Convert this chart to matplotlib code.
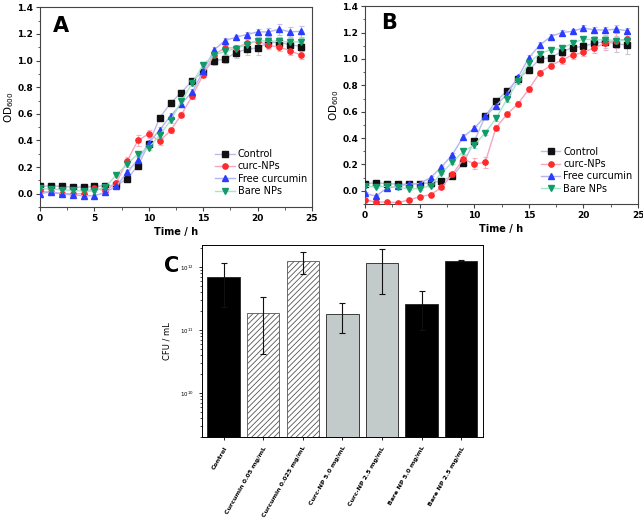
import numpy as np
import matplotlib
matplotlib.use("Agg")
import matplotlib.pyplot as plt
from matplotlib.ticker import MultipleLocator, LogLocator, NullFormatter

plt.rcParams['font.family'] = ['DejaVu Sans']
plt.rcParams['hatch.linewidth'] = 0.6

# ---------------- data ----------------
time_h = list(range(25))
series_names = ["Control", "curc-NPs", "Free curcumin", "Bare NPs"]

A_control = [0.055, 0.06, 0.055, 0.05, 0.05, 0.055, 0.06, 0.065, 0.11, 0.21, 0.375, 0.57, 0.68, 0.76, 0.85, 0.915,
             1.0, 1.01, 1.06, 1.085, 1.095, 1.135, 1.135, 1.12, 1.105]
A_curc = [0.02, 0.01, 0.0, 0.0, 0.0, 0.045, 0.02, 0.08, 0.245, 0.40, 0.45, 0.395, 0.475, 0.595, 0.735, 0.895,
          1.045, 1.095, 1.095, 1.13, 1.145, 1.115, 1.10, 1.075, 1.04]
A_free = [0.0, 0.015, 0.0, -0.01, -0.015, -0.015, 0.01, 0.055, 0.16, 0.255, 0.38, 0.48, 0.585, 0.675, 0.765, 0.92,
          1.08, 1.15, 1.175, 1.195, 1.215, 1.215, 1.235, 1.215, 1.22]
A_bare = [0.04, 0.035, 0.03, 0.025, 0.02, 0.02, 0.05, 0.14, 0.22, 0.30, 0.345, 0.44, 0.55, 0.695, 0.83, 0.97,
          1.04, 1.07, 1.09, 1.12, 1.15, 1.145, 1.145, 1.14, 1.14]

B_control = [0.055, 0.06, 0.055, 0.05, 0.05, 0.055, 0.06, 0.075, 0.11, 0.21, 0.375, 0.565, 0.68, 0.755, 0.85, 0.915,
             1.0, 1.01, 1.055, 1.085, 1.095, 1.12, 1.13, 1.115, 1.105]
B_curc = [-0.07, -0.085, -0.085, -0.09, -0.07, -0.045, -0.03, 0.025, 0.125, 0.24, 0.205, 0.215, 0.48, 0.58, 0.66, 0.77,
          0.895, 0.95, 0.99, 1.03, 1.05, 1.085, 1.12, 1.14, 1.15]
B_free = [-0.02, -0.04, 0.02, 0.035, 0.05, 0.055, 0.10, 0.18, 0.275, 0.41, 0.475, 0.565, 0.645, 0.735, 0.86, 1.01,
          1.105, 1.17, 1.20, 1.21, 1.235, 1.22, 1.22, 1.225, 1.215]
B_bare = [0.035, 0.03, 0.035, 0.025, 0.015, 0.015, 0.04, 0.135, 0.215, 0.30, 0.345, 0.44, 0.55, 0.695, 0.83, 0.97,
          1.04, 1.07, 1.08, 1.12, 1.15, 1.145, 1.145, 1.14, 1.14]

A_err_control = [0.01, 0.01, 0.01, 0.01, 0.01, 0.01, 0.01, 0.01, 0.015, 0.02, 0.02, 0.02, 0.02, 0.02, 0.02, 0.02,
                 0.03, 0.03, 0.04, 0.04, 0.05, 0.04, 0.04, 0.04, 0.03]
A_err_curc = [0.01, 0.01, 0.01, 0.01, 0.01, 0.01, 0.01, 0.02, 0.03, 0.04, 0.03, 0.03, 0.02, 0.02, 0.02, 0.02,
              0.02, 0.02, 0.02, 0.03, 0.03, 0.03, 0.03, 0.03, 0.03]
A_err_free = [0.01, 0.01, 0.01, 0.01, 0.01, 0.01, 0.01, 0.01, 0.02, 0.02, 0.02, 0.02, 0.02, 0.02, 0.02, 0.02,
              0.02, 0.02, 0.02, 0.02, 0.02, 0.03, 0.04, 0.04, 0.04]
A_err_bare = [0.01, 0.01, 0.01, 0.01, 0.01, 0.01, 0.01, 0.01, 0.02, 0.02, 0.02, 0.02, 0.02, 0.02, 0.02, 0.02,
              0.02, 0.02, 0.03, 0.03, 0.03, 0.03, 0.03, 0.03, 0.03]

B_err_control = [0.01, 0.01, 0.01, 0.01, 0.01, 0.01, 0.01, 0.01, 0.01, 0.02, 0.02, 0.02, 0.02, 0.02, 0.02, 0.02,
                 0.03, 0.02, 0.02, 0.02, 0.02, 0.03, 0.05, 0.06, 0.07]
B_err_curc = [0.01, 0.01, 0.01, 0.01, 0.01, 0.01, 0.01, 0.01, 0.02, 0.03, 0.04, 0.04, 0.02, 0.02, 0.02, 0.02,
              0.02, 0.02, 0.03, 0.03, 0.03, 0.04, 0.05, 0.06, 0.05]
B_err_free = [0.01, 0.01, 0.01, 0.01, 0.01, 0.01, 0.01, 0.01, 0.01, 0.02, 0.02, 0.02, 0.02, 0.02, 0.02, 0.02,
              0.02, 0.02, 0.02, 0.02, 0.02, 0.02, 0.02, 0.03, 0.02]
B_err_bare = [0.01, 0.01, 0.01, 0.01, 0.01, 0.01, 0.01, 0.01, 0.01, 0.02, 0.02, 0.02, 0.02, 0.02, 0.02, 0.02,
              0.02, 0.02, 0.02, 0.02, 0.02, 0.03, 0.03, 0.03, 0.03]

C_labels = ["Control", "Curcumin 0.05 mg/mL", "Curcumin 0.025 mg/mL", "Curc-NP 5.0 mg/mL",
            "Curc-NP 2.5 mg/mL", "Bare NP 5.0 mg/mL", "Bare NP 2.5 mg/mL"]
C_values = [6.9e11, 1.86e11, 1.25e12, 1.8e11, 1.15e12, 2.6e11, 1.25e12]
C_errors = [4.6e11, 1.44e11, 0.48e12, 0.9e11, 0.78e12, 1.6e11, 0.02e12]

# ---------------- styles ----------------
marker_colors = ["#111111", "#ff2a2a", "#2a3cff", "#139a6a"]
line_colors = ["#b8bde6", "#f7a6c0", "#b4b4f4", "#a6e6c8"]
err_colors = ["#c8c8d8", "#f4b0c4", "#c0c0f0", "#b0e0c8"]
markers = ["s", "o", "^", "v"]

fig = plt.figure(figsize=(6.43, 5.19), dpi=100)

def growth_panel(ax, ys, errs, letter, lpos):
    for y, e, mc, lc, ec, m, name in zip(ys, errs, marker_colors, line_colors, err_colors, markers, series_names):
        ax.errorbar(time_h, y, yerr=e, fmt='none', ecolor=ec, elinewidth=0.8, capsize=1.8, capthick=0.8, zorder=2)
        ax.plot(time_h, y, '-', color=lc, lw=1.0, marker=m, markersize=3.8, markerfacecolor=mc,
                markeredgecolor=mc, label=name, zorder=3)
    ax.set_xlim(0, 25)
    ax.set_ylim(-0.1, 1.4)
    ax.xaxis.set_major_locator(MultipleLocator(5))
    ax.xaxis.set_minor_locator(MultipleLocator(2.5))
    ax.yaxis.set_major_locator(MultipleLocator(0.2))
    ax.yaxis.set_minor_locator(MultipleLocator(0.1))
    ax.tick_params(which='both', direction='out', top=False, right=False, labelsize=6.5, color='#444444', pad=2)
    ax.tick_params(which='major', length=3, width=0.8)
    ax.tick_params(which='minor', length=1.8, width=0.6)
    for lab in ax.get_xticklabels() + ax.get_yticklabels():
        lab.set_fontweight('bold')
    for s in ax.spines.values():
        s.set_color('#444444')
        s.set_linewidth(0.8)
    ax.set_xlabel("Time / h", fontsize=7, fontweight='bold', labelpad=3)
    ax.set_ylabel("OD$_{600}$", fontsize=7.5, labelpad=1)
    ax.text(lpos[0], lpos[1], letter, transform=ax.transAxes, fontsize=15, fontweight='bold',
            ha='center', va='center')
    ax.legend(loc='upper left', bbox_to_anchor=(0.63, 0.31), frameon=False, fontsize=7,
              labelspacing=0.25, handlelength=2.0, handletextpad=0.3, borderaxespad=0)

axA = fig.add_axes([0.0622, 0.601, 0.423, 0.385])
growth_panel(axA, [A_control, A_curc, A_free, A_bare],
             [A_err_control, A_err_curc, A_err_free, A_err_bare], "A", (0.078, 0.905))

axB = fig.add_axes([0.5677, 0.607, 0.4246, 0.381])
growth_panel(axB, [B_control, B_curc, B_free, B_bare],
             [B_err_control, B_err_curc, B_err_free, B_err_bare], "B", (0.088, 0.915))

# ---------------- panel C ----------------
axC = fig.add_axes([0.314, 0.158, 0.437, 0.370])
face = ["#000000", "white", "white", "#c3caca", "#c3caca", "#000000", "#000000"]
hatches = [None, "//////", "//////", None, None, None, None]
x = np.arange(len(C_labels))
bars = axC.bar(x, C_values, width=0.82, color=face, edgecolor="#222222", linewidth=0.6,
               yerr=C_errors, capsize=2.5, error_kw=dict(elinewidth=0.8, capthick=0.8, ecolor='#111111'),
               bottom=0)
for b, h in zip(bars, hatches):
    if h:
        b.set_hatch(h)
        b.set_edgecolor('#555555')
axC.set_yscale('log')
axC.set_ylim(10**9.3, 10**12.35)
axC.set_xlim(-0.55, 6.55)
axC.yaxis.set_major_locator(LogLocator(base=10, numticks=10))
axC.yaxis.set_minor_locator(LogLocator(base=10, subs=np.arange(2, 10), numticks=20))
axC.yaxis.set_minor_formatter(NullFormatter())
axC.set_xticks(x)
axC.set_xticklabels(C_labels, rotation=60, ha='right', rotation_mode='anchor', fontsize=4.5, fontweight='bold')
axC.tick_params(axis='y', which='major', labelsize=4, length=2.5, width=0.6)
axC.tick_params(axis='y', which='minor', length=1.5, width=0.5)
axC.tick_params(axis='x', length=2.5, width=0.6)
for s in axC.spines.values():
    s.set_linewidth(0.7)
axC.set_ylabel("CFU / mL", fontsize=6, labelpad=6)
fig.text(172 / 643, 1 - 266 / 519, "C", fontsize=15, fontweight='bold', ha='center', va='center')

fig.savefig("out.png", dpi=100)
